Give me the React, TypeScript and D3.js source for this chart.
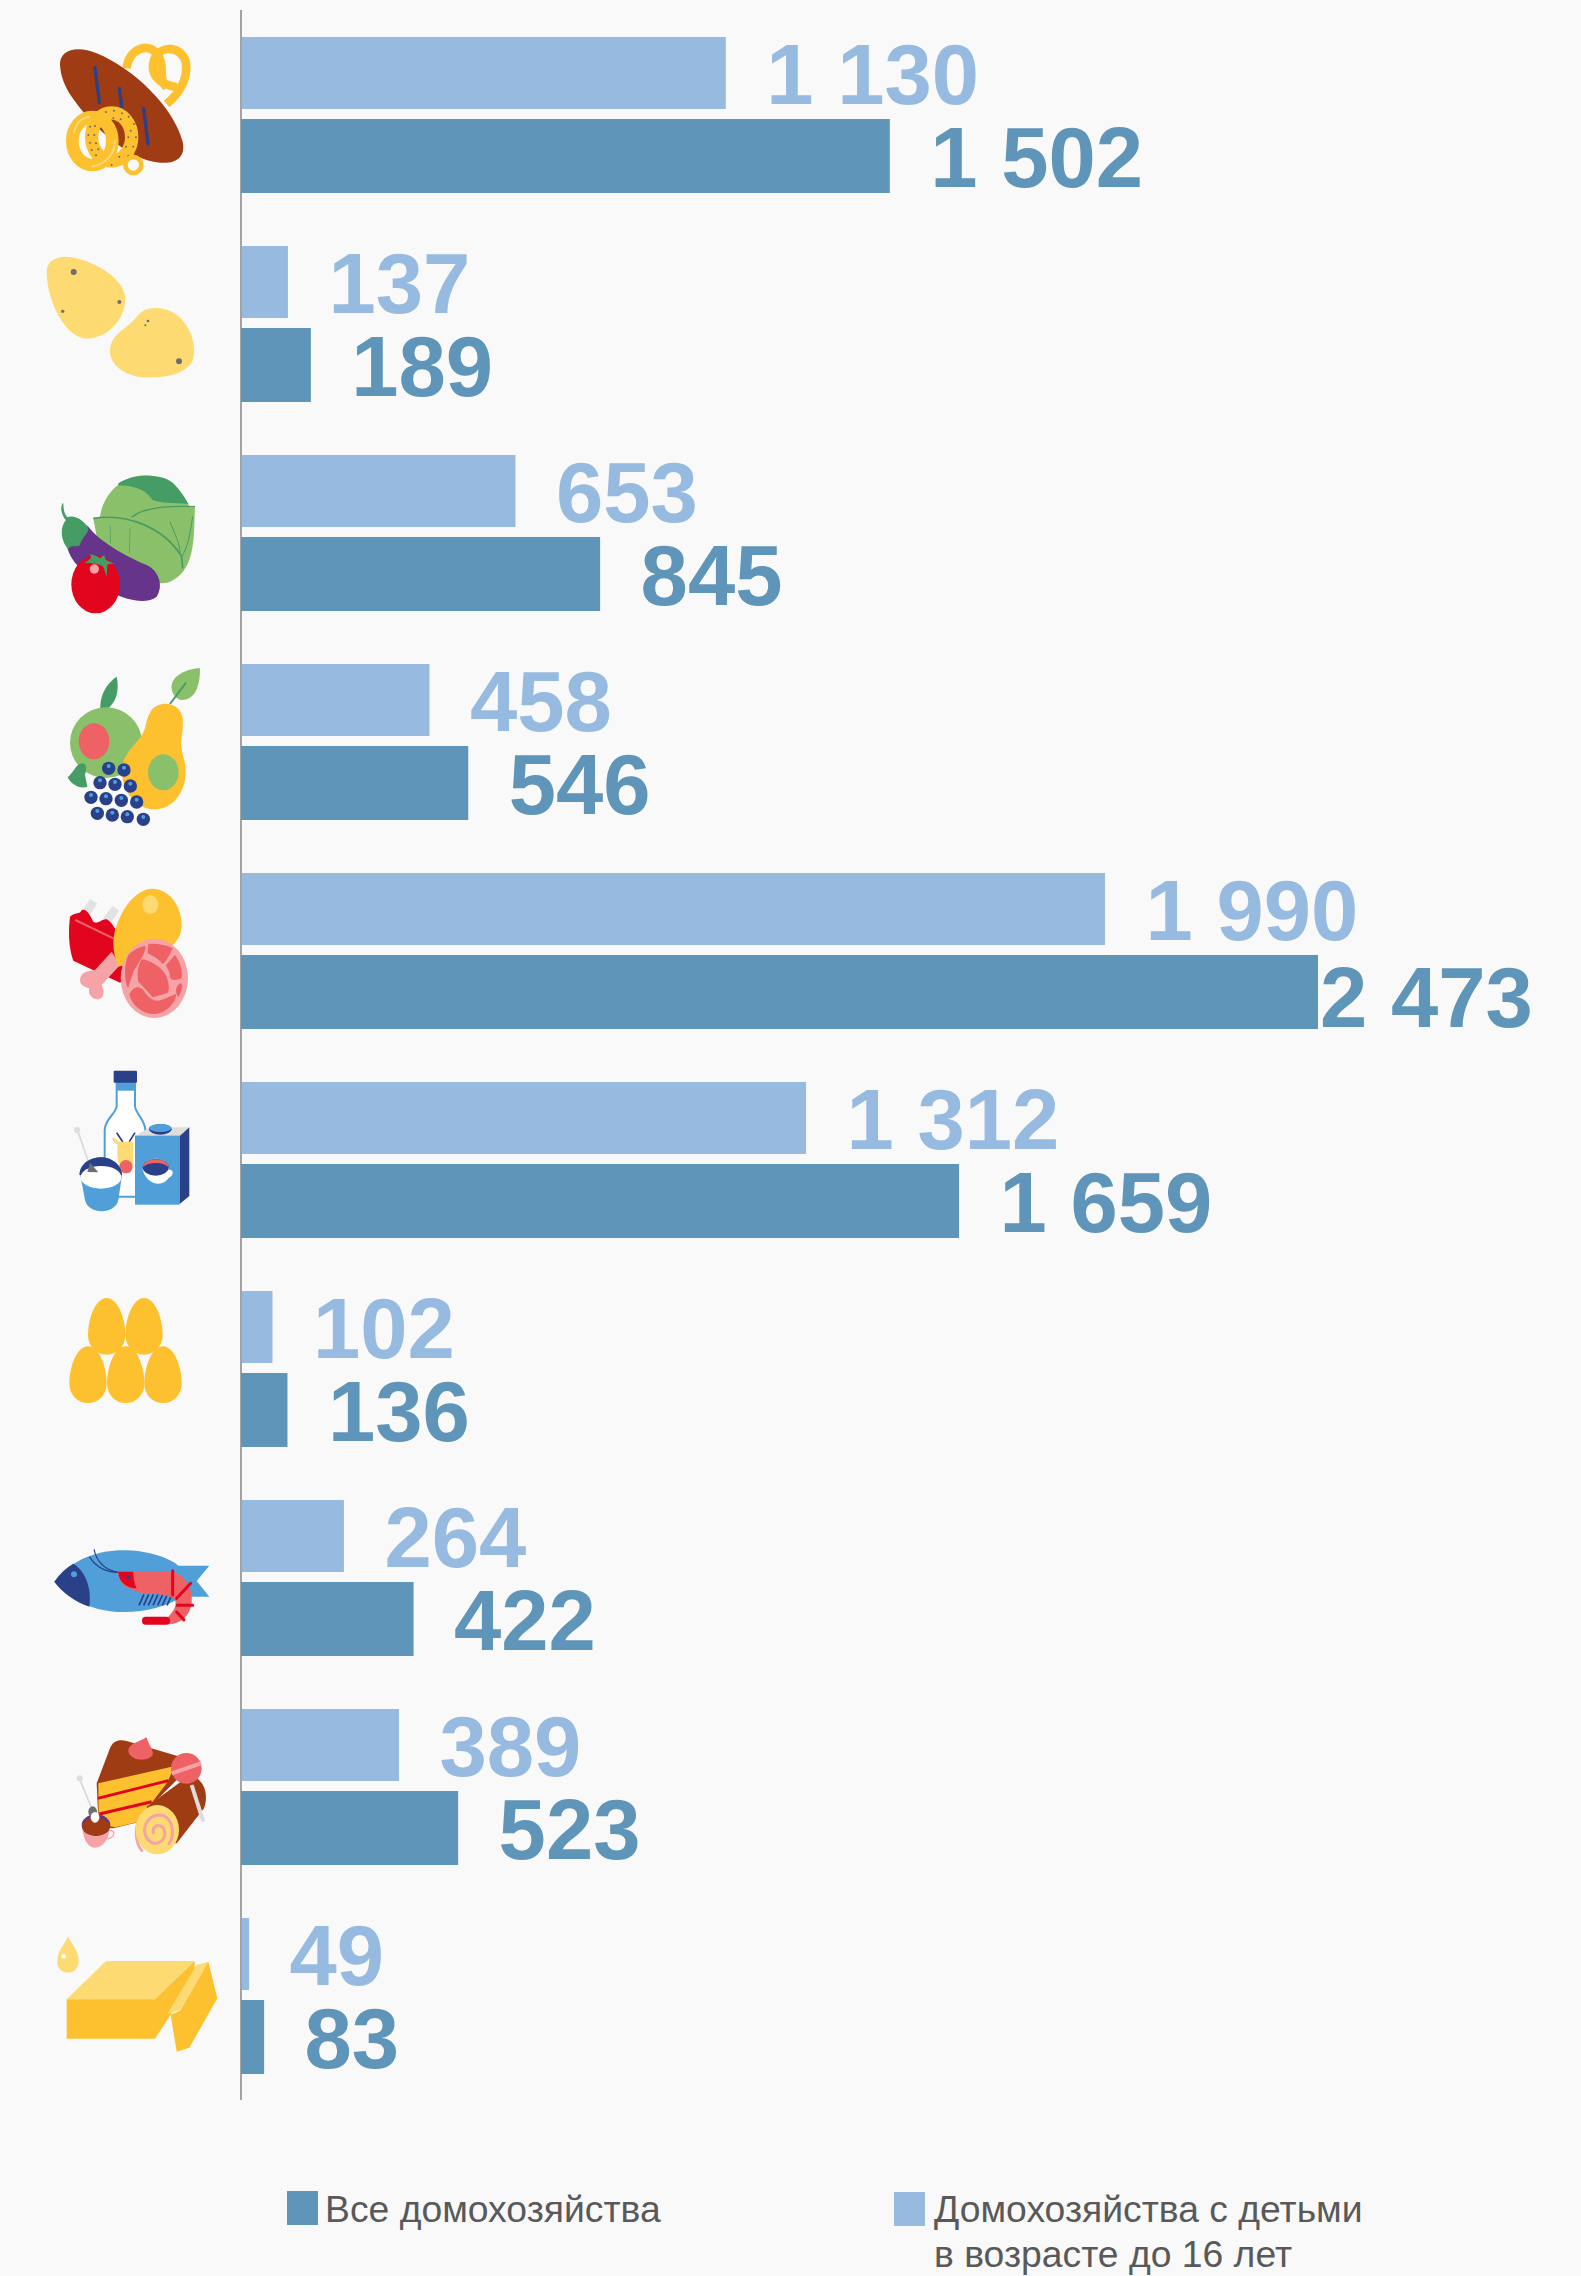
import React from "react";
import * as d3 from "d3";

const categories = ["Хлеб", "Картофель", "Овощи", "Фрукты", "Мясо", "Молоко", "Яйца", "Рыба", "Сладости", "Масло"];
const allHouseholds = [1502, 189, 845, 546, 2473, 1659, 136, 422, 523, 83];
const withChildren = [1130, 137, 653, 458, 1990, 1312, 102, 264, 389, 49];
const legendAll = ["Все домохозяйства"];
const legendChildren = ["Домохозяйства с детьми", "в возрасте до 16 лет"];

const W = 1581, H = 2276;
const BG = "#F9F9F9", LIGHT = "#97BBE0", DARK = "#5F95B8";
const Y = "#FDC130", PY = "#FDDB72", BR = "#A03C13", NV = "#2A4189", BL = "#519FD8", RD = "#E2051E", SA = "#EE6164", PK = "#F5A3A6", GL = "#8AC06A", GD = "#469C65", PU = "#66348A", GR = "#6E6E6E";

const fmt = (v: number) => d3.format(",")(v).replace(",", " ");

const Icon = ({ dy, children }: any) => <g transform={`translate(0,${dy}) scale(${1 / 3})`}>{children}</g>;

const sesame1 = [[318,336],[342,332],[366,340],[386,350],[402,372],[392,392],[408,412],[385,412],[400,440],[378,440],[385,468],[358,470],[375,490],[335,495],[270,380],[285,378],[265,405],[283,405],[270,428],[288,430],[275,450],[295,448],[288,466],[340,355],[362,358]];
const Bread = () => (
  <Icon dy={0}>
    <g fill="none" stroke={Y} strokeWidth={26}>
      <path d="M380 205 C385 150 440 125 470 160 C500 200 470 230 500 262" />
      <path d="M500 312 C545 275 562 230 558 190 C550 140 480 130 462 180 C450 220 470 250 530 262" />
    </g>
    <path d="M180 195 C178 150 230 135 290 160 C400 205 520 320 548 425 C558 470 530 492 480 488 C380 480 270 370 215 290 C195 260 182 230 180 195Z" fill={BR} />
    <g stroke={NV} strokeWidth={10} strokeLinecap="round">
      <line x1={285} y1={203} x2={298} y2={308} />
      <line x1={358} y1={265} x2={366} y2={325} />
      <line x1={431} y1={325} x2={444} y2={432} />
    </g>
    <ellipse cx={335} cy={411} rx={60} ry={72} fill="none" stroke={Y} strokeWidth={40} />
    {sesame1.map((p, i) => <circle key={i} cx={p[0]} cy={p[1]} r={3} fill={GR} />)}
    <circle cx={400} cy={495} r={24} fill={BG} stroke={Y} strokeWidth={14} />
    <ellipse cx={277} cy={423} rx={60} ry={72} fill="none" stroke={Y} strokeWidth={38} />
    <path d="M222 400 C225 370 245 352 270 350" fill="none" stroke={PY} strokeWidth={6} />
    <path d="M345 420 C345 460 320 492 275 500" fill="none" stroke={PY} strokeWidth={6} />
  </Icon>
);
const Potato = () => (
  <Icon dy={0}>
    <path d="M140 815 C140 780 175 765 215 772 C290 785 375 840 376 895 C376 960 320 1015 262 1016 C195 1015 140 900 140 815Z" fill={PY} />
    <path d="M330 1050 C332 1000 385 985 410 950 C435 915 495 918 530 945 C570 975 590 1030 580 1075 C565 1125 490 1135 430 1132 C375 1128 328 1095 330 1050Z" fill={PY} />
    <circle cx={221} cy={816} r={9} fill={GR} />
    <circle cx={358} cy={906} r={6} fill={GR} />
    <circle cx={188} cy={934} r={5} fill={GR} />
    <circle cx={537} cy={1084} r={9} fill={GR} />
    <circle cx={444} cy={963} r={4} fill={GR} />
    <circle cx={436} cy={976} r={3} fill={GR} />
  </Icon>
);
const Veg = () => (
  <Icon dy={420}>
    <path d="M300 290 C310 220 370 165 435 166 C500 168 545 215 570 262 L585 262 C580 340 590 440 520 480 C470 510 400 470 290 350 L280 295Z" fill={GL} />
    <path d="M355 190 C390 165 480 155 520 190 C540 210 560 240 565 252 C520 248 480 250 458 240 C440 215 410 195 355 197Z" fill={GD} />
    <g fill="none" stroke={GD}>
      <path d="M280 295 C380 280 490 320 545 410 L548 445" strokeWidth={5} />
      <path d="M395 292 C420 270 470 255 585 260" strokeWidth={4} />
      <path d="M455 235 L495 182" strokeWidth={4} />
      <path d="M510 305 C525 345 540 370 540 400 M578 290 C570 340 565 380 545 410" strokeWidth={3} />
      <path d="M330 315 L332 370 M390 325 L388 400" strokeWidth={2} />
    </g>
    <path d="M200 375 C195 330 240 300 265 320 C300 365 370 405 440 435 C480 455 490 500 470 530 C440 555 380 540 340 520 C270 480 210 430 200 375Z" fill={PU} />
    <path d="M188 250 C178 265 188 290 198 300 C180 320 180 360 205 388 C215 370 225 385 240 375 C245 350 275 335 262 320 C245 295 220 285 202 292 C192 280 190 265 190 250Z" fill={GD} />
    <ellipse cx={287} cy={493} rx={73} ry={87} fill={RD} />
    <path d="M252 430 C270 418 280 412 268 402 C285 405 295 410 300 415 L312 405 L318 420 L345 432 C335 432 325 430 322 435 L320 470 L310 440 C295 430 265 428 252 430Z" fill={GD} />
    <circle cx={283} cy={447} r={14} fill={PK} />
  </Icon>
);
const blueberries = [[326,1045],[372,1050],[300,1088],[345,1093],[391,1098],[273,1132],[318,1136],[364,1141],[410,1146],[292,1180],[337,1185],[382,1190],[430,1198]];
const Fruit = () => (
  <Icon dy={420}>
    <path d="M302 878 C295 830 320 790 350 770 C360 820 345 860 302 878Z" fill={GD} />
    <path d="M515 795 C520 765 565 745 600 745 C600 790 590 840 545 840 C525 838 512 815 515 795Z" fill={GL} />
    <path d="M510 852 L558 788" stroke={GD} strokeWidth={6} />
    <ellipse cx={318} cy={968} rx={108} ry={106} fill={GL} />
    <ellipse cx={282} cy={964} rx={46} ry={54} fill={SA} />
    <path d="M455 870 C480 840 540 845 548 895 C552 945 535 960 550 1010 C575 1090 530 1170 460 1168 C390 1165 350 1080 372 1020 C385 985 425 960 435 925 C440 900 445 885 455 870Z" fill={Y} />
    <ellipse cx={490} cy={1057} rx={46} ry={54} fill={GL} />
    <path d="M203 1072 C220 1060 225 1035 245 1030 C262 1030 260 1050 255 1065 L262 1100 C240 1108 215 1095 203 1072Z" fill={GD} />
    {blueberries.map((p, i) => (
      <g key={i}>
        <circle cx={p[0]} cy={p[1]} r={20} fill={NV} />
        <circle cx={p[0]} cy={p[1] - 7} r={6} fill={BL} />
      </g>
    ))}
  </Icon>
);
const Meat = () => (
  <Icon dy={840}>
    <path d="M245 215 L270 178 L292 190 L270 225Z M310 235 L338 198 L358 212 L335 245Z" fill="#E2E2E2" />
    <path d="M210 230 C225 215 240 225 245 210 C260 205 270 225 280 245 C295 255 305 235 320 238 C335 245 340 260 345 265 L380 420 L360 428 L220 362 C205 320 205 270 210 230Z" fill={RD} />
    <path d="M226 240 L340 295" stroke={SA} strokeWidth={6} />
    <path d="M335 335 L285 390 C270 392 240 395 240 420 C240 440 262 442 268 445 C262 465 280 482 298 477 C315 470 312 450 305 435 L360 375Z" fill={PK} />
    <path d="M340 310 C340 250 390 150 455 146 C510 146 545 200 545 255 C545 310 500 330 460 350 L355 380 C345 355 340 335 340 310Z" fill={Y} />
    <ellipse cx={451} cy={194} rx={24} ry={28} fill={PY} />
    <ellipse cx={463} cy={415} rx={101} ry={119} fill={PK} />
    <g fill={SA}>
      <path d="M385 345 C400 330 420 320 436 318 C438 335 425 355 400 395 L384 445 C372 420 372 375 385 345Z" />
      <path d="M445 312 C470 310 500 315 518 325 C510 345 495 370 488 372 C470 350 450 345 443 340Z" />
      <path d="M525 345 C540 365 548 390 545 415 C530 420 515 425 510 412 C510 390 500 385 498 375Z" />
      <path d="M425 358 C450 360 490 385 500 410 C510 440 508 455 500 460 L458 472 C440 450 430 440 415 425 C410 395 415 375 425 358Z" />
      <path d="M388 462 C400 440 415 435 430 450 C445 475 465 490 490 478 L528 462 C530 490 490 525 458 522 C425 520 395 495 388 462Z" />
      <path d="M540 430 C550 430 548 450 535 472 C525 460 525 440 540 430Z" />
    </g>
  </Icon>
);
const Milk = () => (
  <Icon dy={840}>
    <path d="M350 730 L405 730 L405 800 C410 825 435 840 436 870 L436 1070 L314 1070 L314 870 C316 835 345 825 350 800Z" fill="#FFFFFF" stroke={BL} strokeWidth={6} />
    <rect x={348} y={725} width={56} height={27} fill={BL} />
    <rect x={341} y={692} width={70} height={36} rx={3} fill={NV} />
    <path d="M336 895 C345 890 352 900 356 905 L400 905 L400 950 C400 975 395 990 380 1000 C365 1000 355 980 352 945 L352 912 C345 912 340 905 336 895Z" fill={PY} />
    <path d="M350 878 L368 905 M405 878 L388 905" stroke={NV} strokeWidth={5} />
    <circle cx={378} cy={980} r={20} fill={SA} />
    <path d="M232 868 L268 975" stroke="#DDDDDD" strokeWidth={6} />
    <circle cx={231} cy={870} r={9} fill="#DDDDDD" />
    <path d="M240 1000 C245 960 285 952 302 952 C335 952 365 975 366 1005 L355 1080 C345 1125 265 1125 255 1080Z" fill={BL} />
    <path d="M238 1005 C240 965 280 952 302 952 C335 952 365 975 366 1005 Z" fill={NV} />
    <ellipse cx={303} cy={1012} rx={61} ry={34} fill="#FFFFFF" />
    <path d="M262 996 L270 968 L295 997Z" fill={GR} />
    <path d="M405 888 L450 862 L568 862 L538 888Z" fill="#DDDDDD" />
    <rect x={405} y={887} width={134} height={207} fill={BL} />
    <path d="M539 888 L568 862 L568 1068 L539 1092Z" fill={NV} />
    <ellipse cx={481} cy={868} rx={34} ry={16} fill={NV} />
    <ellipse cx={481} cy={864} rx={34} ry={12} fill={BL} />
    <path d="M428 990 C428 945 505 945 506 990 C520 985 525 1005 505 1015 C490 1040 445 1040 428 990Z" fill="#FFFFFF" />
    <ellipse cx={467} cy={982} rx={39} ry={25} fill={NV} />
    <path d="M428 982 C432 950 502 950 506 982 C490 965 445 965 428 982Z" fill={SA} />
  </Icon>
);
const eggCenters = [[320,200],[432,200],[264,345],[377,345],[489,345]];
const Eggs = () => (
  <Icon dy={1260}>
    {eggCenters.map((p, i) => (
      <path key={i} transform={`translate(${p[0]},${p[1]})`} d="M0 -86 C32 -86 56 -28 56 26 C56 60 30 84 0 84 C-30 84 -56 60 -56 26 C-56 -28 -32 -86 0 -86Z" fill={Y} />
    ))}
  </Icon>
);
const Fish = () => (
  <Icon dy={1260}>
    <path d="M163 965 C220 890 310 868 380 871 C450 873 510 895 535 917 L628 917 L590 963 L628 1010 L545 1010 C500 1040 430 1058 365 1056 C290 1055 210 1025 163 965Z" fill={BL} />
    <path d="M163 965 C180 940 200 922 220 911 C258 935 275 985 268 1040 C225 1025 190 1000 163 965Z" fill={NV} />
    <circle cx={222} cy={943} r={9} fill={BL} />
    <path d="M268 890 C290 925 320 937 356 937 M282 868 C290 905 315 930 356 937" fill="none" stroke={NV} strokeWidth={3.5} />
    <g stroke={NV} strokeWidth={5}>
      {[420,434,448,462,476,490,504].map((x) => <line key={x} x1={x + 12} y1={1003} x2={x - 3} y2={1036} />)}
    </g>
    <path d="M355 935 L520 935 C560 950 580 990 575 1030 C570 1065 545 1092 505 1093 L505 1070 C525 1050 530 1035 525 1018 C500 1000 450 1002 420 998 C395 985 355 985 355 935Z" fill={SA} />
    <path d="M355 935 L400 935 C400 960 405 975 410 985 C380 985 355 965 355 935Z" fill={RD} />
    <circle cx={385} cy={951} r={6} fill={NV} />
    <path d="M518 932 L518 1005 M530 1015 L572 970 M532 1036 L578 1036 M530 1056 L552 1080" stroke={RD} strokeWidth={9} strokeLinecap="round" />
    <rect x={426} y={1070} width={84} height={24} rx={11} fill={RD} />
  </Icon>
);
const Sweets = () => (
  <Icon dy={1680}>
    <path d="M290 310 L330 205 C340 180 360 178 380 183 L540 230 L530 300 L450 380 L420 425 L340 445 L296 440Z" fill={BR} />
    <path d="M295 310 L525 258 L500 310 L450 375 L418 425 L345 442 L296 432Z" fill={Y} />
    <path d="M293 355 L505 302 M298 402 L455 365" stroke={RD} strokeWidth={9} />
    <path d="M385 215 C385 190 410 190 440 172 C445 195 462 210 458 225 C445 245 395 245 385 215Z" fill={SA} />
    <path d="M440 380 L570 285 C610 295 628 340 612 385 L530 490 L470 490Z" fill={BR} />
    <path d="M575 315 L610 425" stroke="#DDDDDD" strokeWidth={12} />
    <circle cx={559} cy={265} r={46} fill={SA} />
    <path d="M515 280 L603 250" stroke={PK} strokeWidth={12} />
    <path d="M428 515 C405 490 400 440 425 405" fill="none" stroke={PK} strokeWidth={8} />
    <ellipse cx={472} cy={449} rx={65} ry={74} fill={PY} />
    <path d="M462 462 C450 440 480 425 492 448 C505 480 465 505 445 480 C420 450 440 405 480 405 C515 408 530 460 505 495" fill="none" stroke={PK} strokeWidth={9} />
    <path d="M238 295 L278 392" stroke="#D8D8D8" strokeWidth={5} />
    <circle cx={239} cy={295} r={9} fill="#DDDDDD" />
    <path d="M246 435 L330 435 C330 480 305 503 285 503 C260 503 248 470 246 435Z" fill={PK} />
    <path d="M328 452 C350 450 345 475 315 478" fill="none" stroke={PK} strokeWidth={4} />
    <ellipse cx={288} cy={435} rx={43} ry={32} fill={PU} />
    <ellipse cx={288} cy={440} rx={41} ry={28} fill={BR} />
    <ellipse cx={278} cy={395} rx={13} ry={16} fill={GR} />
    <ellipse cx={285} cy={412} rx={13} ry={16} fill="#FFFFFF" />
  </Icon>
);
const Butter = () => (
  <Icon dy={1680}>
    <path d="M204 768 C215 795 237 810 236 845 C235 865 222 878 204 878 C186 878 172 865 172 845 C172 810 195 795 204 768Z" fill={PY} />
    <circle cx={191} cy={829} r={7} fill="#FFFFFF" />
    <path d="M200 958 L318 843 L584 843 L465 958Z" fill={PY} />
    <path d="M200 958 L465 958 L584 843 L584 900 L512 1004 L465 1076 L200 1076Z" fill={Y} />
    <path d="M502 1002 L590 855 L625 845 L540 990Z" fill={PY} />
    <path d="M512 1004 L540 992 L625 845 L652 955 L568 1103 L530 1115Z" fill={Y} />
  </Icon>
);
const icons = [Bread, Potato, Veg, Fruit, Meat, Milk, Eggs, Fish, Sweets, Butter];

export default function App() {
  const axisX = 241;
  const maxValue = d3.max(allHouseholds) as number;
  const x = d3.scaleLinear().domain([0, maxValue]).range([227.5, 1318]);
  const y = d3.scaleBand().domain(categories).range([37, 37 + 209 * categories.length]);
  const labelX = (v: number) => x(v) + (v === maxValue ? 2 : 40.5);
  return (
    <svg width={W} height={H} viewBox={`0 0 ${W} ${H}`} style={{ position: "absolute", left: 0, top: 0, display: "block" }}>
      <rect width={W} height={H} fill={BG} />
      {icons.map((I, i) => <I key={i} />)}
      <line x1={axisX} x2={axisX} y1={10} y2={2100} stroke="#A3A3A3" strokeWidth={2} />
      {categories.map((c, i) => {
        const top = y(c) as number;
        return (
          <g key={c} fontFamily="'Liberation Sans', Arial, sans-serif" fontWeight={700} fontSize={85}>
            <rect x={axisX + 1} y={top} width={x(withChildren[i]) - axisX - 1} height={72} fill={LIGHT} />
            <rect x={axisX} y={top + 82} width={x(allHouseholds[i]) - axisX} height={74} fill={DARK} />
            <text x={labelX(withChildren[i])} y={top + 67} fill={LIGHT}>{fmt(withChildren[i])}</text>
            <text x={labelX(allHouseholds[i])} y={top + (allHouseholds[i] === maxValue ? 154 : 150)} fill={DARK}>{fmt(allHouseholds[i])}</text>
          </g>
        );
      })}
      <g fontFamily="'Liberation Sans', Arial, sans-serif" fontSize={37.3} fill="#595959">
        <rect x={287} y={2191} width={31} height={34} fill={DARK} />
        <text x={325} y={2222}>{legendAll[0]}</text>
        <rect x={894} y={2192} width={31} height={34} fill={LIGHT} />
        {legendChildren.map((t, i) => <text key={t} x={934} y={2222 + i * 45}>{t}</text>)}
      </g>
    </svg>
  );
}
